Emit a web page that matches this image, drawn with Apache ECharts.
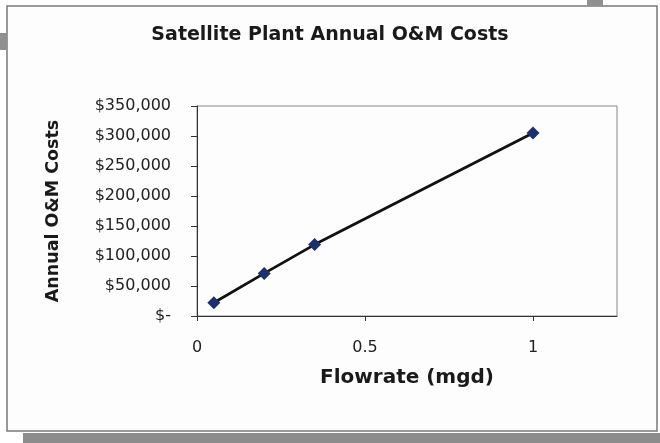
<!DOCTYPE html>
<html><head><meta charset="utf-8">
<script src="https://cdn.jsdelivr.net/npm/echarts@6/dist/echarts.min.js"></script>
<style>html,body{margin:0;padding:0;background:#fff}#c{width:660px;height:443px}</style>
</head><body><div id="c"></div>
<script>
const titleText = "Satellite Plant Annual O&M Costs";
const xName = "Flowrate (mgd)";
const yName = "Annual O&M Costs";
const flowrate = [0.05, 0.2, 0.35, 1];
const costs = [22000, 71000, 119000, 305000];
const xTicks = [0, 0.5, 1];

const chart = echarts.init(document.getElementById('c'));
const font = '"DejaVu Sans", sans-serif';
chart.setOption({
  animation: false,
  backgroundColor: '#ffffff',
  graphic: [
    {type:'rect', z:-10, shape:{x:7,y:6,width:650,height:425}, style:{fill:'#fdfdfd', stroke:'#7a7a7a', lineWidth:1.5}},
    {type:'rect', z:-10, shape:{x:23,y:433,width:637,height:10}, style:{fill:'#8c8c8c'}},
    {type:'rect', z:-10, shape:{x:587,y:0,width:16,height:6}, style:{fill:'#909090'}},
    {type:'rect', z:-10, shape:{x:0,y:33,width:7,height:17}, style:{fill:'#909090'}}
  ],
  title: {
    text: titleText, left: 'center', top: 21,
    textStyle: {fontFamily: font, fontWeight: 'bold', fontSize: 19, color: '#1a1a1a'}
  },
  grid: {left: 197, right: 43, top: 106, bottom: 127, show: true, borderColor: '#888', borderWidth: 1, backgroundColor: 'transparent'},
  xAxis: {
    type: 'value', min: 0, max: 1.25, interval: 0.25,
    name: xName, nameLocation: 'middle', nameGap: 52,
    nameTextStyle: {fontFamily: font, fontWeight: 'bold', fontSize: 20, color: '#1a1a1a'},
    axisLine: {show: true, lineStyle: {color: '#333'}},
    axisTick: {show: true, customValues: xTicks, length: 5, lineStyle: {color: '#333'}},
    axisLabel: {customValues: xTicks, fontFamily: font, fontSize: 16, color: '#222', margin: 24,
      formatter: v => String(v)},
    splitLine: {show: false}
  },
  yAxis: {
    type: 'value', min: 0, max: 350000, interval: 50000,
    name: yName, nameLocation: 'middle', nameGap: 135, nameRotate: 90,
    nameTextStyle: {fontFamily: font, fontWeight: 'bold', fontSize: 17.5, color: '#1a1a1a'},
    axisLine: {show: true, lineStyle: {color: '#333'}},
    axisTick: {show: true, length: 6, lineStyle: {color: '#333'}},
    axisLabel: {fontFamily: font, fontSize: 16, color: '#222', margin: 26,
      formatter: v => v === 0 ? '$-' : '$' + v.toLocaleString('en-US')},
    splitLine: {show: false}
  },
  series: [{
    type: 'line',
    data: flowrate.map((x, i) => [x, costs[i]]),
    symbol: 'diamond', symbolSize: 13,
    itemStyle: {color: '#1f2f6e'},
    lineStyle: {color: '#111', width: 2.8}
  }]
});
</script></body></html>
